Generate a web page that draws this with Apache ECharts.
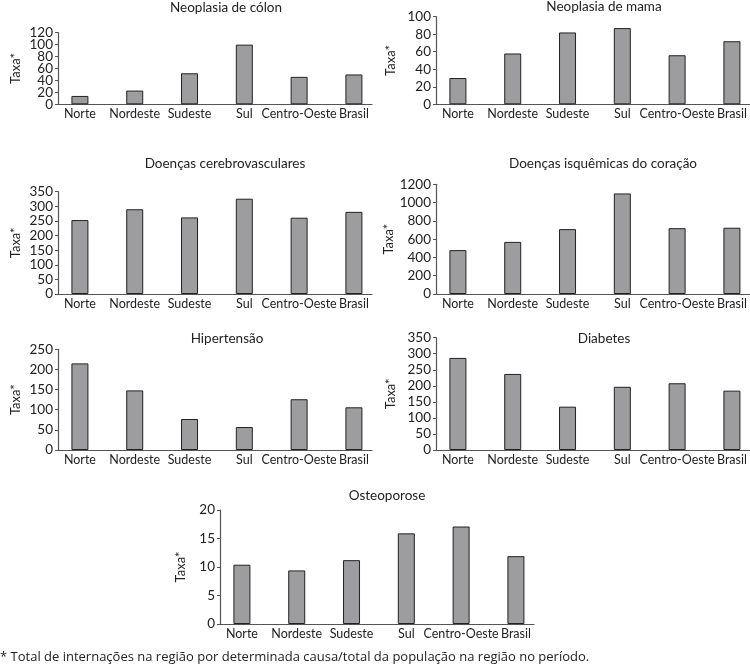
<!DOCTYPE html>
<html>
<head>
<meta charset="utf-8">
<script src="https://cdn.jsdelivr.net/npm/echarts@6/dist/echarts.min.js"></script>
<style>
html,body{margin:0;padding:0;background:#fff;}
#chart{width:750px;height:668px;}
</style>
</head>
<body>
<div id="chart"></div>
<script>
// ---- data ----
const categories = ['Norte', 'Nordeste', 'Sudeste', 'Sul', 'Centro-Oeste', 'Brasil'];
const titles = ['Neoplasia de cólon', 'Neoplasia de mama', 'Doenças cerebrovasculares',
  'Doenças isquêmicas do coração', 'Hipertensão', 'Diabetes', 'Osteoporose'];
const colon = [14, 23, 52, 100, 46, 50];
const mama = [30, 58, 82, 87, 56, 72];
const cerebro = [253, 290, 262, 326, 261, 281];
const isquemicas = [480, 570, 710, 1100, 720, 725];
const hipertensao = [215, 148, 77, 57, 126, 106];
const diabetes = [287, 237, 135, 197, 208, 185];
const osteoporose = [10.4, 9.4, 11.2, 15.9, 17.1, 11.9];
// y tick labels per panel
const colonTicks = [0, 20, 40, 60, 80, 100, 120];
const mamaTicks = [0, 20, 40, 60, 80, 100];
const cerebroTicks = [0, 50, 100, 150, 200, 250, 300, 350];
const isquemicasTicks = [0, 200, 400, 600, 800, 1000, 1200];
const hipertensaoTicks = [0, 50, 100, 150, 200, 250];
const diabetesTicks = [0, 50, 100, 150, 200, 250, 300, 350];
const osteoporoseTicks = [0, 5, 10, 15, 20];
const yName = 'Taxa*';
const footnote = '* Total de internações na região por determinada causa/total da população na região no período.';

const seriesValues = [colon, mama, cerebro, isquemicas, hipertensao, diabetes, osteoporose];
const yTicks = [colonTicks, mamaTicks, cerebroTicks, isquemicasTicks, hipertensaoTicks, diabetesTicks, osteoporoseTicks];

// ---- layout (positions only) ----
const panels = [
  {left: 58,  top: 32.7,  height: 71.6,  tx: 226, ty: 9,   gap: 36},
  {left: 436, top: 16.7,  height: 87.6,  tx: 604, ty: 8,   gap: 39},
  {left: 58,  top: 191.7, height: 102.3, tx: 225, ty: 165, gap: 36},
  {left: 436, top: 184.3, height: 109.7, tx: 603, ty: 165, gap: 39},
  {left: 58,  top: 349.3, height: 100.7, tx: 227, ty: 340, gap: 36},
  {left: 436, top: 337.7, height: 112.3, tx: 604, ty: 340, gap: 39},
  {left: 220, top: 510,   height: 114,   tx: 387, ty: 497, gap: 33}
];
const FONT = 'Lato';
const TXT = '#222';
const AXIS = '#555';

const idx = categories.map((c, i) => i);

const labelStyle = {
  margin: 5, fontSize: 13.5, color: TXT, fontFamily: FONT,
  hideOverlap: false, showMinLabel: true, showMaxLabel: true,
  formatter: v => String(v)
};

const yAxes = [];
panels.forEach((p, i) => {
  const ticks = yTicks[i];
  const yMax = ticks[ticks.length - 1];
  // primary axis: line, ticks, name, even labels
  yAxes.push({
    type: 'value', gridIndex: i, position: 'left', min: 0, max: yMax,
    name: yName, nameLocation: 'middle', nameGap: p.gap, nameRotate: 90,
    nameTextStyle: {fontSize: 13, color: TXT, fontFamily: FONT},
    axisLine: {show: true, onZero: false, lineStyle: {color: AXIS, width: 1.2}},
    axisTick: {show: true, length: 3, customValues: ticks, lineStyle: {color: AXIS}},
    splitLine: {show: false},
    axisLabel: Object.assign({customValues: ticks.filter((t, k) => k % 2 === 0)}, labelStyle)
  });
  // secondary axis on the same side: odd labels only (avoids auto-hiding of tight labels)
  yAxes.push({
    type: 'value', gridIndex: i, position: 'left', offset: 0, min: 0, max: yMax,
    axisLine: {show: false, onZero: false},
    axisTick: {show: false},
    splitLine: {show: false},
    axisLabel: Object.assign({customValues: ticks.filter((t, k) => k % 2 === 1)}, labelStyle)
  });
});

const option = {
  animation: false,
  textStyle: {fontFamily: FONT},
  title: panels.map((p, i) => ({
    text: titles[i], left: p.tx, top: p.ty - 8, padding: 0, textAlign: 'center',
    textStyle: {fontFamily: FONT, fontSize: 13.5, fontWeight: 'normal', color: TXT}
  })),
  grid: panels.map(p => ({left: p.left, top: p.top, width: 314, height: p.height, containLabel: false})),
  xAxis: panels.map((p, i) => ({
    type: 'value', gridIndex: i, min: -0.4, max: 5.33,
    axisLine: {show: true, onZero: false, lineStyle: {color: AXIS, width: 1.2}},
    axisTick: {show: false},
    splitLine: {show: false},
    axisLabel: {
      customValues: idx, margin: 3, fontSize: 12.5, color: TXT, fontFamily: FONT,
      hideOverlap: false, showMinLabel: true, showMaxLabel: true,
      formatter: v => categories[Math.round(v)]
    }
  })),
  yAxis: yAxes,
  series: seriesValues.map((vals, i) => ({
    type: 'bar', xAxisIndex: i, yAxisIndex: 2 * i, barWidth: 17,
    data: vals.map((v, j) => [idx[j], v]),
    itemStyle: {color: '#9d9d9f', borderColor: '#222', borderWidth: 1},
    silent: true
  })),
  graphic: [{
    type: 'text', left: 0, top: 651,
    style: {text: footnote, font: '13px "Open Sans"', fill: TXT}
  }]
};

const chart = echarts.init(document.getElementById('chart'), null, {renderer: 'canvas'});
chart.setOption(option);
</script>
</body>
</html>
